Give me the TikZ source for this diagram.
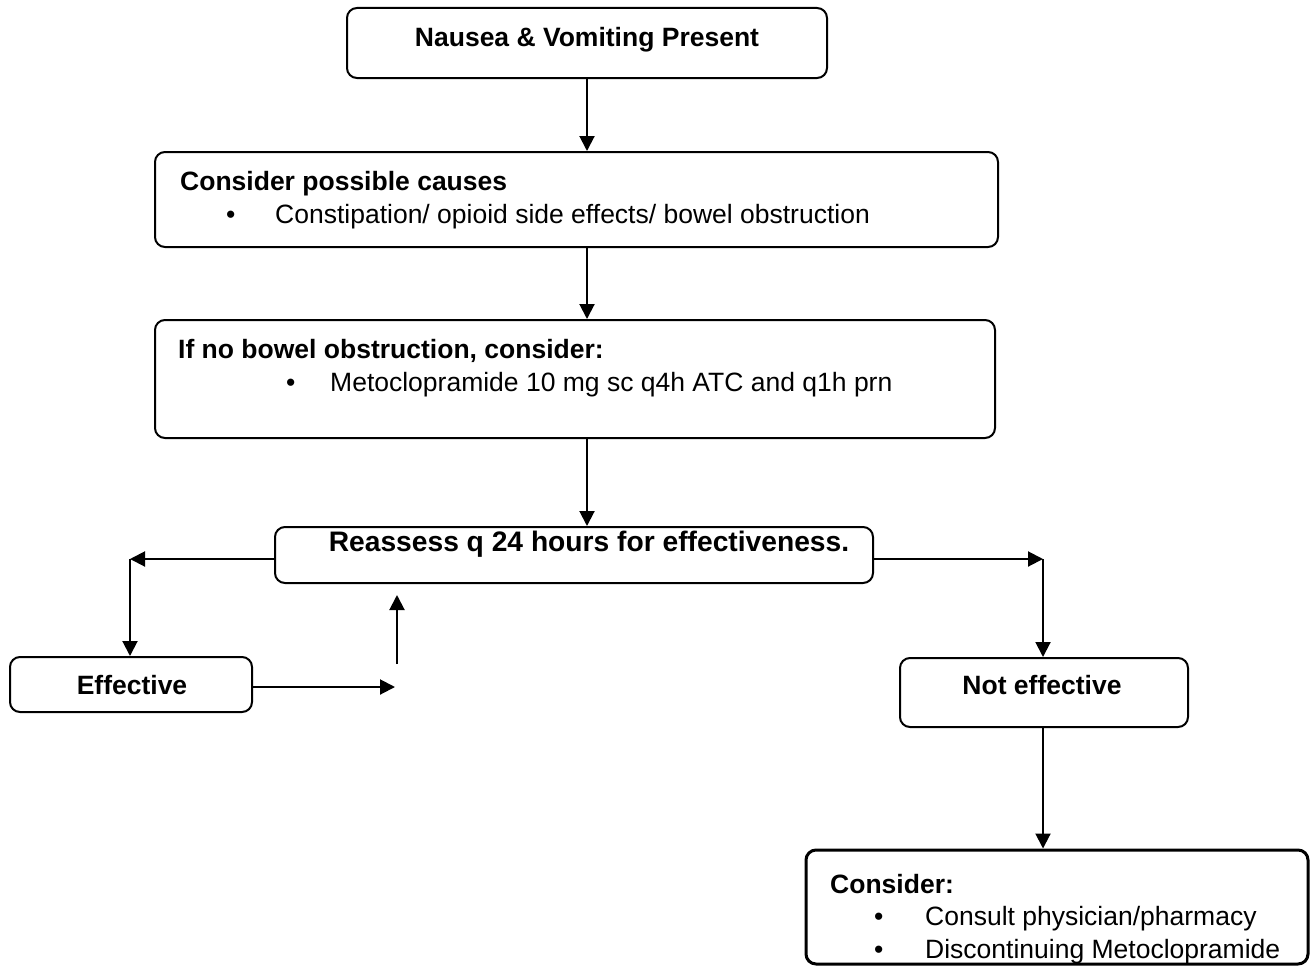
\documentclass[tikz,border=0pt]{standalone}
\usepackage{fontspec}
\setmainfont{Liberation Sans}
\usetikzlibrary{arrows.meta}
\begin{document}
\begin{tikzpicture}[x=1pt,y=-1pt,
  box/.style={draw, line width=2pt, rounded corners=10pt, inner sep=0pt},
  txt/.style={font=\fontsize{26.5}{31}\selectfont, inner sep=0pt},
  bold/.style={inner sep=0pt, font=\fontsize{26.5}{31}\selectfont\bfseries},
  arr/.style={line width=2pt, -{Triangle[length=15pt,width=15pt]}}]
\useasboundingbox (0,0) rectangle (1313,966);
% boxes
\node[box, minimum width=480pt, minimum height=70pt] (b1) at (587,43) {};
\node[box, minimum width=843pt, minimum height=95pt] (b2) at (576.5,199.5) {};
\node[box, minimum width=840pt, minimum height=118pt] (b3) at (575,379) {};
\node[box, minimum width=598pt, minimum height=56pt] (b4) at (574,555) {};
\node[box, minimum width=242pt, minimum height=55pt] (eff) at (131,684.5) {};
\node[box, minimum width=288pt, minimum height=69pt] (neff) at (1044,692.5) {};
\node[box, line width=3pt, minimum width=502pt, minimum height=114pt] (cons) at (1057,907) {};
% texts
\node[bold, anchor=base] (t1) at (587,46) {Nausea \& Vomiting Present};
\node[bold, anchor=base west] (t2a) at (180,190) {Consider possible causes};
\node[txt, anchor=base west] (t2b) at (226,223) {•};
\node[txt, anchor=base west] (t2c) at (275,223) {Constipation/ opioid side effects/ bowel obstruction};
\node[bold, anchor=base west] (t3a) at (178,358) {If no bowel obstruction, consider:};
\node[txt, anchor=base west] (t3b) at (286,391) {•};
\node[txt, anchor=base west] (t3c) at (330,391) {Metoclopramide 10 mg sc q4h ATC and q1h prn};
\node[bold, anchor=base, font=\fontsize{28.2}{33}\selectfont\bfseries] (t4) at (589,551) {Reassess q 24 hours for effectiveness.};
\node[bold, anchor=base] (t5) at (132,694) {Effective};
\node[bold, anchor=base] (t6) at (1042,694) {Not effective};
\node[bold, anchor=base west] (t7a) at (830,893) {Consider:};
\node[txt, anchor=base west] (t7b) at (874,925) {•};
\node[txt, anchor=base west] (t7c) at (925,925) {Consult physician/pharmacy};
\node[txt, anchor=base west] (t7d) at (874,958) {•};
\node[txt, anchor=base west] (t7e) at (925,958) {Discontinuing Metoclopramide};
% connectors
\coordinate (ax) at (587,0);
\draw[arr] (b1.south) -- (b1.south |- b2.north);
\draw[arr] (ax |- b2.south) -- (ax |- b3.north);
\draw[arr] (ax |- b3.south) -- (ax |- b4.north);
\coordinate (L) at (130,559);
\coordinate (R) at (1043,559);
\draw[arr] (b4.west |- L) -- (L);
\draw[arr] (L) -- (L |- eff.north);
\draw[arr] (b4.east |- R) -- (R);
\draw[arr] (R) -- (R |- neff.north);
\coordinate (E) at (395,687);
\draw[arr] (eff.east |- E) -- (E);
\coordinate (U1) at (397,664);
\coordinate (U2) at (397,595);
\draw[arr] (U1) -- (U2);
\draw[arr] (neff.south -| R) -- (R |- cons.north);
\end{tikzpicture}
\end{document}
